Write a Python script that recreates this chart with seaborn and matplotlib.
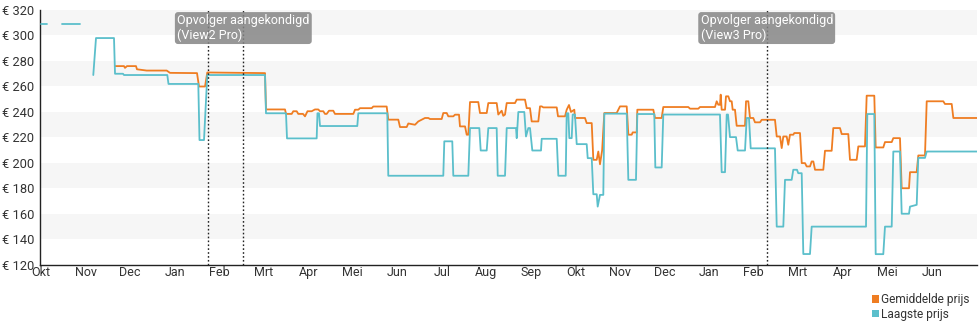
import numpy as np
import pandas as pd
import matplotlib
matplotlib.use("Agg")
import matplotlib.pyplot as plt
from matplotlib.patches import Patch
import matplotlib.transforms as mtransforms
import seaborn as sns

# ---------------- data (x = months since first "Okt", y = price in euro) -------------
month_labels = ["Okt", "Nov", "Dec", "Jan", "Feb", "Mrt", "Apr", "Mei", "Jun", "Jul", "Aug",
                "Sep", "Okt", "Nov", "Dec", "Jan", "Feb", "Mrt", "Apr", "Mei", "Jun"]
price_ticks = [120, 140, 160, 180, 200, 220, 240, 260, 280, 300, 320]

# Laagste prijs (lowest price), three separate segments
low_seg1_m = [0.0, 0.13]
low_seg1_v = [309, 309]
low_seg2_m = [0.465, 0.876]
low_seg2_v = [309, 309]
low_m = [1.174, 1.235, 1.639, 1.662, 1.841, 1.863, 2.836, 2.863, 3.532, 3.559, 3.66, 3.734,
         5.03, 5.052, 5.501, 5.524, 6.19, 6.208, 6.242, 6.265, 7.102, 7.125, 7.776, 7.798,
         9.033, 9.056, 9.235, 9.258, 9.595, 9.633, 9.842, 9.873, 10.008, 10.044, 10.232, 10.255,
         10.419, 10.457, 10.666, 10.682, 10.718, 10.852, 10.89, 10.942, 10.98, 11.032, 11.227,
         11.243, 11.58, 11.616, 11.782, 11.804, 11.84, 11.863, 11.916, 11.939, 11.99, 12.029,
         12.253, 12.276, 12.366, 12.402, 12.478, 12.5, 12.552, 12.626, 12.649, 13.152, 13.188,
         13.36, 13.39, 13.771, 13.794, 13.937, 13.973, 15.246, 15.284, 15.359, 15.397, 15.426,
         15.471, 15.606, 15.644, 15.808, 15.846, 15.897, 15.936, 16.481, 16.52, 16.668, 16.706,
         16.856, 16.892, 16.975, 17.004, 17.081, 17.117, 17.267, 17.305, 18.525, 18.554, 18.711,
         18.742, 18.913, 18.951, 19.102, 19.138, 19.288, 19.326, 19.49, 19.513, 19.663, 19.699,
         19.849, 19.888, 21.017]
low_v = [269, 298, 298, 270, 270, 269, 269, 262, 262, 218, 218, 269,
         269, 239, 239, 219.3, 219.3, 239, 239, 229, 229, 239, 239, 190,
         190, 217, 217, 190, 190, 227.4, 227.4, 209.8, 209.8, 227.4, 227.4, 190,
         190, 227.4, 227.4, 219.5, 240, 240, 220.8, 227.4, 227.4, 209.8, 209.8,
         219, 219, 190, 190, 239, 239, 219.5, 219.5, 238, 238, 214.8,
         214.8, 203.8, 203.8, 175.5, 175.5, 165.8, 175, 175, 238.7, 238.7, 186.8,
         186.8, 238.4, 238.4, 196.5, 196.5, 238, 238, 192.8, 192.8, 238, 238,
         220.3, 220.3, 209.8, 209.8, 235.3, 235.3, 211.5, 211.5, 150.1, 150.1, 186.8,
         186.8, 194.7, 194.7, 192, 192, 128.6, 128.6, 150.1, 150.1, 238.4, 238.4,
         128.5, 128.5, 150.1, 150.1, 209, 209, 160.2, 160.2, 165.8, 167.2, 204,
         204, 209, 209]

# Gemiddelde prijs (average price)
avg_m = [1.662, 1.863, 1.886, 1.931, 2.133, 2.155, 2.373, 2.822, 2.897, 3.503, 3.548, 3.683,
         3.734, 5.03, 5.052, 5.479, 5.501, 5.629, 5.665, 5.741, 5.777, 5.883, 5.928, 5.984,
         6.078, 6.152, 6.226, 6.265, 6.339, 6.377, 6.415, 6.467, 6.563, 6.601, 7.013, 7.051,
         7.125, 7.163, 7.426, 7.461, 7.762, 7.798, 8.023, 8.061, 8.211, 8.248, 8.398, 8.472,
         8.622, 8.697, 8.735, 8.997, 9.033, 9.11, 9.146, 9.258, 9.296, 9.386, 9.408, 9.521,
         9.559, 9.595, 9.633, 9.819, 9.857, 10.008, 10.044, 10.232, 10.268, 10.344, 10.38,
         10.419, 10.457, 10.643, 10.682, 10.868, 10.906, 10.98, 11.018, 11.167, 11.205, 11.243,
         11.279, 11.58, 11.609, 11.766, 11.804, 11.856, 11.9, 11.975, 11.99, 12.215, 12.253,
         12.366, 12.402, 12.478, 12.514, 12.552, 12.6, 12.649, 12.926, 13.001, 13.152, 13.188,
         13.264, 13.286, 13.376, 13.39, 13.749, 13.787, 13.937, 13.973, 14.535, 14.573, 14.759,
         14.797, 15.134, 15.172, 15.208, 15.246, 15.262, 15.284, 15.359, 15.381, 15.433, 15.471,
         15.509, 15.531, 15.583, 15.621, 15.808, 15.831, 15.882, 15.92, 15.994, 16.032, 16.145,
         16.183, 16.481, 16.52, 16.594, 16.632, 16.668, 16.743, 16.78, 16.818, 16.892, 16.915,
         17.043, 17.081, 17.155, 17.193, 17.267, 17.305, 17.342, 17.38, 17.566, 17.604, 17.754,
         17.79, 17.941, 17.979, 18.127, 18.165, 18.315, 18.352, 18.502, 18.54, 18.711, 18.742,
         18.913, 18.951, 19.102, 19.138, 19.288, 19.326, 19.49, 19.513, 19.663, 19.699, 19.849,
         19.888, 20.26, 20.298, 20.449, 20.486, 21.017]
avg_v = [276, 276, 274.6, 276, 276, 273.5, 272.5, 272.5, 270.7, 270.5, 260, 260,
         271, 270.5, 242, 242, 238.5, 238.5, 240.6, 240.6, 238.5, 238.5, 236.6, 240.6,
         240.6, 242, 242, 240.6, 240.6, 238.5, 238.5, 241, 241, 238.5, 238.5, 241.8,
         241.8, 243, 243, 244.3, 244.3, 234, 234, 228.2, 228.2, 231, 230, 232.6,
         235.3, 235.3, 234.5, 234.5, 239.2, 239.2, 236.6, 236.6, 237.9, 237.9, 228.7, 228.7,
         222.2, 222.2, 247.8, 247.8, 239.2, 239.2, 247, 247, 238, 241, 237,
         238, 247, 247, 249.7, 249.7, 243, 243, 232.6, 232.6, 244.4, 244.4,
         243.6, 243.6, 236.6, 236.6, 241.8, 245.5, 240, 241.8, 235.3, 235.3, 231.3,
         231.3, 202.5, 202.5, 209, 199, 210, 239.2, 239.2, 244.4, 244.4, 222.2,
         222.2, 224, 224, 241.8, 241.8, 235.3, 235.3, 243.9, 243.9, 242.6, 242.6,
         243.9, 243.9, 248.4, 245.7, 245.7, 253.6, 241.8, 241.8, 252.3, 252.3, 248.4,
         248.4, 241.8, 241.8, 229.2, 229.2, 248.4, 248.4, 235.3, 235.3, 231.9, 231.9,
         233.9, 233.9, 220.8, 220.8, 211.7, 220.8, 220.8, 214.3, 222.2, 222.2, 223.5,
         223.5, 199.9, 199.9, 197.3, 197.3, 201.2, 201.2, 194.7, 194.7, 209.6, 209.6,
         227.4, 227.4, 222.7, 222.7, 202.5, 202.5, 213, 213, 252.8, 252.8, 212.2,
         212.2, 216.4, 216.4, 219.5, 219.5, 180.2, 180.2, 192.8, 192.8, 205.9, 205.9,
         248.4, 248.4, 246.3, 246.3, 235.3, 235.3]

event_lines = [3.757, 4.543, 16.295]
annotations = [(4.543, "Opvolger aangekondigd\n(View2 Pro)"),
               (16.295, "Opvolger aangekondigd\n(View3 Pro)")]

series_labels = ["Gemiddelde prijs", "Laagste prijs"]
ORANGE = "#ef7d22"
TEAL = "#5bbfcb"
TEXT = "#333333"

# ---------------- figure ----------------
sns.set_theme(style="white")
plt.rcParams["font.family"] = ["Roboto", "DejaVu Sans"]

fig = plt.figure(figsize=(9.8, 3.25), dpi=100)
ax = fig.add_axes([40 / 980, 1 - 265 / 325, 937 / 980, 255 / 325])

x_left = (40 - 41) / 44.535
x_right = (977 - 41) / 44.535
ax.set_xlim(x_left, x_right)
ax.set_ylim(120, 320)

# alternating bands
for lo in range(140, 320, 40):
    ax.axhspan(lo, lo + 20, color="#f6f6f6", lw=0, zorder=0)

lw = 1.3
for mm, vv in [(low_seg1_m, low_seg1_v), (low_seg2_m, low_seg2_v), (low_m, low_v)]:
    sns.lineplot(x=mm, y=vv, ax=ax, color=TEAL, lw=lw, sort=False, estimator=None, zorder=3)
sns.lineplot(x=avg_m, y=avg_v, ax=ax, color=ORANGE, lw=lw, sort=False, estimator=None, zorder=2)

for xl in event_lines:
    ax.axvline(xl, color="#222222", lw=1.0, ls=(0, (1.2, 1.6)), zorder=4)

trans = mtransforms.blended_transform_factory(ax.transData, ax.transAxes)
for xm, txt in annotations:
    ax.text(xm, 0.983, txt, transform=trans, ha="center", va="top", multialignment="left",
            fontsize=9, color="white", linespacing=1.1, zorder=6,
            bbox=dict(boxstyle="round,pad=0.18,rounding_size=0.25", fc="#858585", ec="none",
                      alpha=0.85))

ax.set_xticks(range(len(month_labels)))
ax.set_xticklabels(month_labels)
ax.set_yticks(price_ticks)
ax.set_yticklabels([f"€ {p}" for p in price_ticks])
ax.tick_params(axis="x", direction="in", length=4, width=1, colors="#222222",
               labelcolor=TEXT, labelsize=9, pad=1)
ax.tick_params(axis="y", direction="out", length=3, width=1, colors="#222222",
               labelcolor=TEXT, labelsize=9.3, pad=1)
ax.set_xlabel("")
ax.set_ylabel("")
for side in ["top", "right"]:
    ax.spines[side].set_visible(False)
for side in ["left", "bottom"]:
    ax.spines[side].set_color("#222222")
    ax.spines[side].set_linewidth(1.0)
ax.grid(False)

handles = [Patch(facecolor=ORANGE, edgecolor="none"), Patch(facecolor=TEAL, edgecolor="none")]
fig.legend(handles, series_labels, loc="lower right", bbox_to_anchor=(0.998, -0.012),
           frameon=False, fontsize=8.6, handlelength=0.6, handleheight=0.6,
           handletextpad=0.2, labelspacing=0.1, borderpad=0.2, labelcolor=TEXT)

fig.savefig("out.png", dpi=100)
